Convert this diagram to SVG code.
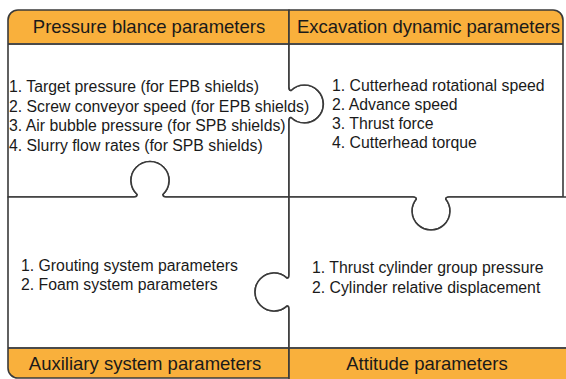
<svg xmlns="http://www.w3.org/2000/svg" width="566" height="379" viewBox="0 0 566 379">
  <style>
    .body { fill: #ffffff; }
    .head { fill: #F9B03C; }
    .edge { fill: none; stroke: #3a3a3a; stroke-width: 1.6; stroke-linejoin: round; }
    .rule { fill: none; stroke: #4a4a4a; stroke-width: 2; }
    .title { font-family: "Liberation Sans", Arial, sans-serif; font-size: 18.5px; fill: #1a1a1a; text-anchor: middle; }
    .item { font-family: "Liberation Sans", Arial, sans-serif; font-size: 15.8px; fill: #1a1a1a; }
  </style>
  <rect width="566" height="379" fill="#ffffff"/>

  <!-- top-left piece: knob to the right, socket at the bottom -->
  <g id="pressure-balance">
    <path class="body" d="M8,44 V20 A10,10 0 0 1 18,10 H289 V87 Q289,90.5 291,90.5 A19,19 0 1 1 291,117.5 Q289,117.5 289,121 V197 H166 Q163,197 162.8,194.5 A19,19 0 1 0 137.2,194.5 Q137,197 134,197 H8 Z"/>
    <path class="head" d="M8,44 V20 A10,10 0 0 1 18,10 H289 V44 Z"/>
    <path class="rule" d="M8,44 H289"/>
    <path class="edge" d="M8,44 V20 A10,10 0 0 1 18,10 H289 V87 Q289,90.5 291,90.5 A19,19 0 1 1 291,117.5 Q289,117.5 289,121 V197 H166 Q163,197 162.8,194.5 A19,19 0 1 0 137.2,194.5 Q137,197 134,197 H8 Z"/>
    <text class="title" x="149" y="33">Pressure blance parameters</text>
    <text class="item" x="9" y="92">1. Target pressure (for EPB shields)</text>
    <text class="item" x="9" y="111.5">2. Screw conveyor speed (for EPB shields)</text>
    <text class="item" x="9" y="131">3. Air bubble pressure (for SPB shields)</text>
    <text class="item" x="9" y="150.5">4. Slurry flow rates (for SPB shields)</text>
  </g>

  <!-- top-right piece: socket on the left, knob at the bottom -->
  <g id="excavation-dynamic">
    <path class="body" d="M289,10 H553 A10,10 0 0 1 563,20 V197 H449 Q446,197 445.7,199 A19,19 0 1 1 416.3,199 Q416,197 413,197 H289 V121 Q289,117.5 291,117.5 A19,19 0 1 0 291,90.5 Q289,90.5 289,87 Z"/>
    <path class="head" d="M289,44 V10 H553 A10,10 0 0 1 563,20 V44 Z"/>
    <path class="rule" d="M289,44 H563"/>
    <path class="edge" d="M289,10 H553 A10,10 0 0 1 563,20 V197 H449 Q446,197 445.7,199 A19,19 0 1 1 416.3,199 Q416,197 413,197 H289 V121 Q289,117.5 291,117.5 A19,19 0 1 0 291,90.5 Q289,90.5 289,87 Z"/>
    <text class="title" x="428.5" y="33">Excavation dynamic parameters</text>
    <text class="item" x="332" y="91">1. Cutterhead rotational speed</text>
    <text class="item" x="332" y="110">2. Advance speed</text>
    <text class="item" x="332" y="129">3. Thrust force</text>
    <text class="item" x="332" y="148">4. Cutterhead torque</text>
  </g>

  <!-- bottom-left piece: knob at the top, socket on the right -->
  <g id="auxiliary-system">
    <path class="body" d="M8,197 H134 Q137,197 137.2,194.5 A19,19 0 1 1 162.8,194.5 Q163,197 166,197 H289 V275 Q289,278.1 287,278.1 A19,19 0 1 0 287,305.9 Q289,305.9 289,309 V378 H18 A10,10 0 0 1 8,368 Z"/>
    <path class="head" d="M8,348 H289 V378 H18 A10,10 0 0 1 8,368 Z"/>
    <path class="rule" d="M8,348 H289"/>
    <path class="edge" d="M8,197 H134 Q137,197 137.2,194.5 A19,19 0 1 1 162.8,194.5 Q163,197 166,197 H289 V275 Q289,278.1 287,278.1 A19,19 0 1 0 287,305.9 Q289,305.9 289,309 V378 H18 A10,10 0 0 1 8,368 Z"/>
    <text class="title" x="145" y="370">Auxiliary system parameters</text>
    <text class="item" x="21" y="271">1. Grouting system parameters</text>
    <text class="item" x="21" y="290">2. Foam system parameters</text>
  </g>

  <!-- bottom-right piece: socket at the top, knob to the left -->
  <g id="attitude">
    <path class="body" d="M289,197 H413 Q416,197 416.3,199 A19,19 0 1 0 445.7,199 Q446,197 449,197 H570 V385 H289 V309 Q289,305.9 287,305.9 A19,19 0 1 1 287,278.1 Q289,278.1 289,275 Z"/>
    <path class="head" d="M289,348 H570 V385 H289 Z"/>
    <path class="rule" d="M289,348 H570"/>
    <path class="edge" d="M289,197 H413 Q416,197 416.3,199 A19,19 0 1 0 445.7,199 Q446,197 449,197 H570 V385 H289 V309 Q289,305.9 287,305.9 A19,19 0 1 1 287,278.1 Q289,278.1 289,275 Z"/>
    <text class="title" x="427" y="370">Attitude parameters</text>
    <text class="item" x="312" y="273">1. Thrust cylinder group pressure</text>
    <text class="item" x="312" y="293">2. Cylinder relative displacement</text>
  </g>
</svg>
